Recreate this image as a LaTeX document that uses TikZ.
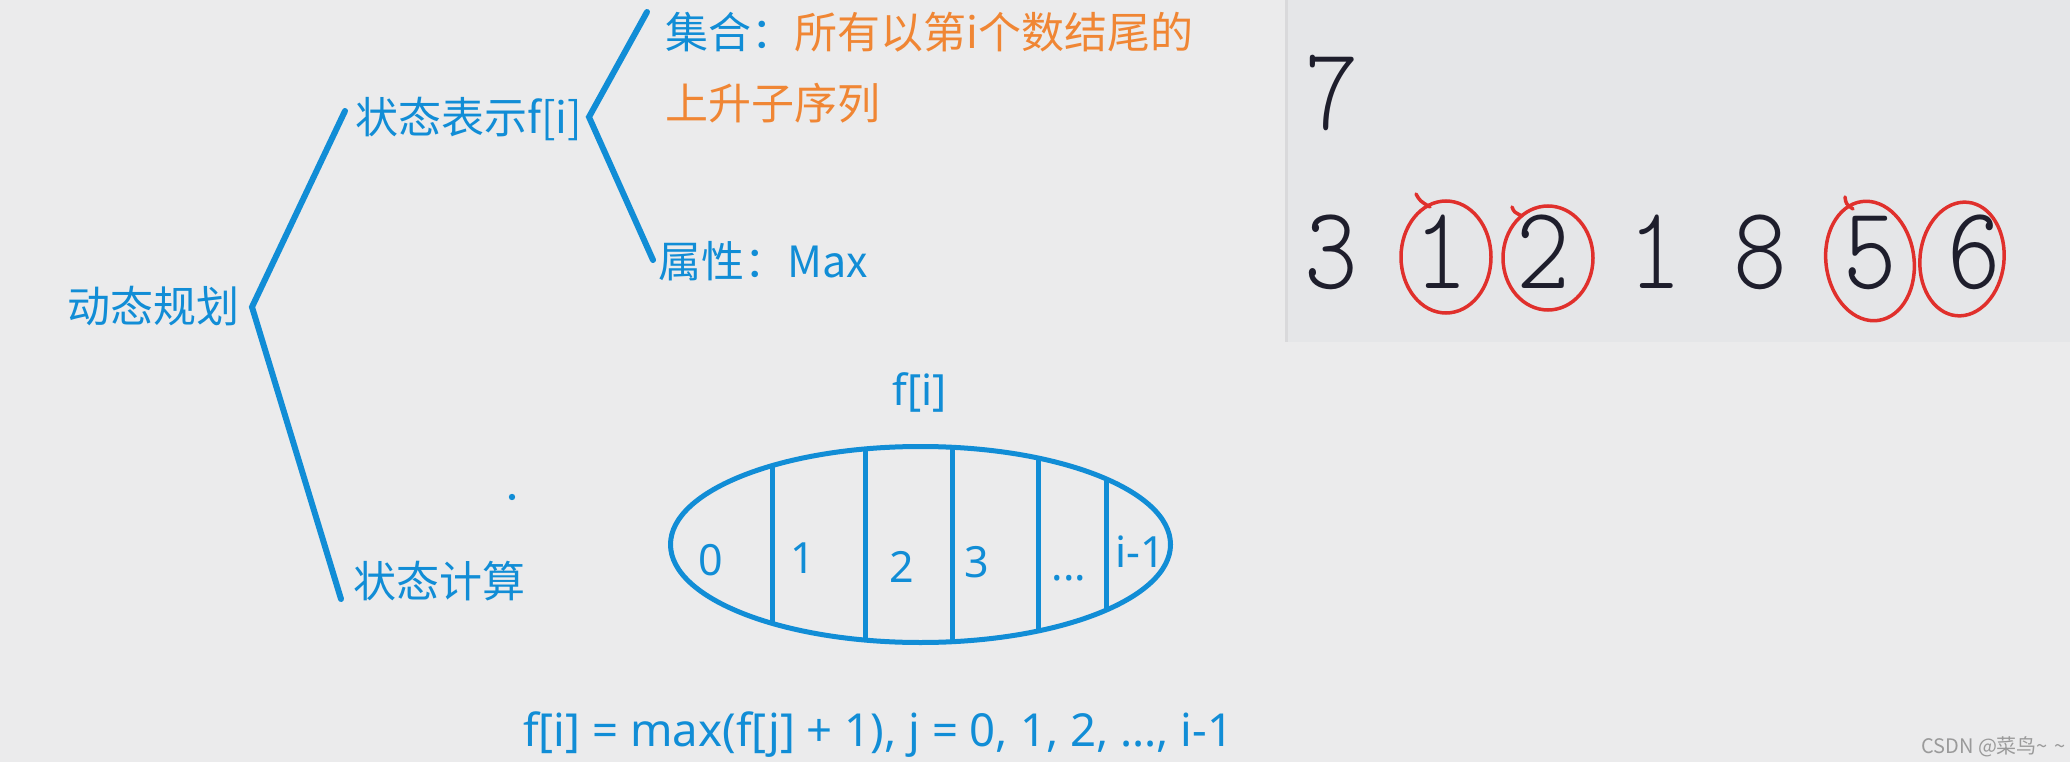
\documentclass[tikz,border=0pt]{standalone}
\usepackage{graphicx}
\usepackage{fontspec}
\setmainfont{Noto Sans CJK SC}
\newfontfamily\latinfnt{Noto Sans}
\newfontfamily\lightmono{Latin Modern Mono Light}
\usetikzlibrary{shapes.geometric}
\definecolor{bgc}{HTML}{EBEBEC}
\definecolor{panelc}{HTML}{E5E6E8}
\definecolor{paneledge}{HTML}{D9D9DB}
\definecolor{bluec}{HTML}{118DD6}
\definecolor{orangec}{HTML}{F08634}
\definecolor{digc}{HTML}{1E1E2C}
\definecolor{redc}{HTML}{E0302C}
\definecolor{wmc}{HTML}{9A9A9A}
\begin{document}
\begin{tikzpicture}[x=1pt,y=-1pt,
  lbl/.style={font=\fontsize{43}{50}\selectfont, text=bluec, inner sep=0pt, anchor=base west},
  cell/.style={font=\latinfnt\fontsize{43}{50}\selectfont, text=bluec, inner sep=0pt, anchor=base},
  branch/.style={draw=bluec, line width=6pt, line cap=round},
  oval/.style={draw=bluec, line width=5pt},
  dig/.style={font=\lightmono\fontsize{102}{110}\selectfont, text=digc, inner sep=0pt, anchor=base},
  ring/.style={draw=redc, line width=3.5pt, line cap=round}]
\useasboundingbox (0,0) rectangle (2070,762);
\fill[bgc] (0,0) rectangle (2070,762);
% right panel
\fill[panelc] (1285,0) rectangle (2070,342);
\draw[paneledge, line width=3pt] (1286.5,0) -- (1286.5,342);

% tree labels
\node[lbl] (dp) at (67,322) {动态规划};
\node[lbl] (rep) at (355,134) {状态表示f[i]};
\node[lbl] (calc) at (353,597) {状态计算};
\node[lbl] (set) at (665,49) {集合：\textcolor{orangec}{所有以第i个数结尾的}};
\node[lbl, text=orangec] (set2) at (665,120) {上升子序列};
\node[lbl] (attr) at (658,277) {属性：Max};

% tree connectors
\coordinate (r) at (252,307);
\coordinate (ru) at (345,111);
\coordinate (rd) at (341,599);
\coordinate (b) at (589,117);
\coordinate (bu) at (647,12);
\coordinate (bd) at (653,260);
\draw[branch] (ru) -- (r) -- (rd);
\draw[branch] (bu) -- (b) -- (bd);

% dot
\fill[bluec] (512,497) circle (3.2);

% f[i] oval
\node[cell] (fi) at (920,405) {f[i]};
\node[oval, ellipse, minimum width=500pt, minimum height=196pt, inner sep=0pt] (el) at (920.5,544.5) {};
\begin{scope}
  \clip (920.5,544.5) ellipse [x radius=250, y radius=98];
  \foreach \xx in {772,865,952,1038,1106}
    \draw[draw=bluec, line width=5pt] (\xx,420) -- (\xx,680);
\end{scope}
\node[cell] (c0) at (711,575) {0};
\node[cell] (c1) at (803,573) {1};
\node[cell] (c2) at (902,582) {2};
\node[cell] (c3) at (977,577) {3};
\node[cell] (c4) at (1069,580) {...};
\node[cell] (c5) at (1140,567) {i-1};

% formula
\node[lbl, font=\latinfnt\fontsize{45.5}{52}\selectfont] (formula) at (523,746) {f[i] = max(f[j] + 1), j = 0, 1, 2, ..., i-1};

% digits panel
\node[dig] (n7) at (1332,130) {\scalebox{1}[1.16]{7}};
\node[dig] (d1) at (1331,288) {\scalebox{1}[1.16]{3}};
\node[dig] (d2) at (1441,288) {\scalebox{1}[1.16]{1}};
\node[dig] (d3) at (1543,288) {\scalebox{1}[1.16]{2}};
\node[dig] (d4) at (1655,288) {\scalebox{1}[1.16]{1}};
\node[dig] (d5) at (1760,288) {\scalebox{1}[1.16]{8}};
\node[dig] (d6) at (1870,288) {\scalebox{1}[1.16]{5}};
\node[dig] (d7) at (1974,288) {\scalebox{1}[1.16]{6}};

% red rings
\coordinate (k1) at (1446,257);
\coordinate (k2) at (1548,258);
\coordinate (k3) at (1870,261);
\coordinate (k4) at (1962,259);
\draw[ring] (k1) ellipse [x radius=45, y radius=56];
\draw[ring] (k2) ellipse [x radius=45, y radius=52];
\draw[ring] (k3) ellipse [x radius=44, y radius=60, rotate=8];
\draw[ring] (k4) ellipse [x radius=42, y radius=57, rotate=-6];
\draw[ring] (1416,194) .. controls (1420,201) .. (1430,207);
\draw[ring] (1512,207) .. controls (1514,212) .. (1522,216);
\draw[ring] (1845,197) .. controls (1846,204) .. (1853,209);

% watermark
\node[font=\fontsize{20}{24}\selectfont, text=wmc, inner sep=0pt, anchor=base west] (wm) at (1921,753) {CSDN @菜鸟\textasciitilde\hspace{0.3em}\textasciitilde};
\end{tikzpicture}
\end{document}
